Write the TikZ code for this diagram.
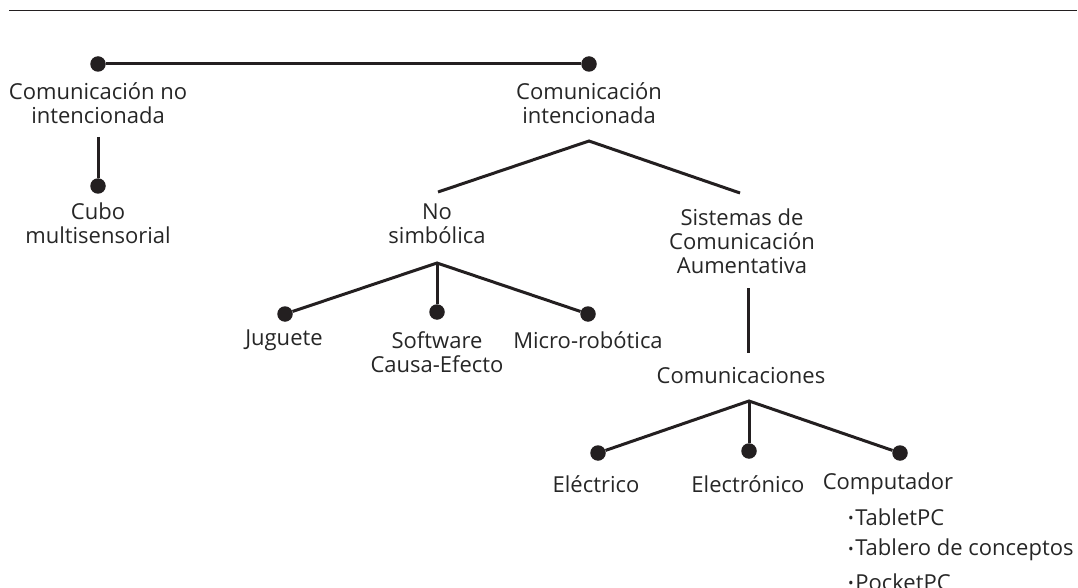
\documentclass[tikz,border=0pt]{standalone}
\usepackage{fontspec}
\setmainfont{Open Sans}
\definecolor{ink}{HTML}{231F20}
\definecolor{txt}{HTML}{262626}
\newcommand{\bul}{\raisebox{0.12ex}{\scalebox{0.68}{•}}\kern1.5pt}
\begin{document}
\begin{tikzpicture}[x=1pt,y=-1pt,
  dot/.style={circle,fill=ink,inner sep=0pt,minimum size=15.5pt},
  lbl/.style={text=txt,align=center,font=\fontsize{22}{24}\selectfont,inner sep=0pt},
  item/.style={text=txt,anchor=west,font=\fontsize{22}{24}\selectfont,inner sep=0pt},
  conn/.style={draw=ink,line width=3pt},
  rule/.style={draw=ink,line width=1.4pt}]
\useasboundingbox (0,0) rectangle (1078,588);
% top rule
\coordinate (rl) at (9,10.5);
\coordinate (rr) at (1077,10.5);
\draw[rule] (rl) -- (rr);
% level 1
\node[dot] (d1) at (98,64) {};
\node[dot] (d2) at (589,64) {};
\draw[conn] (d1) -- (d2);
\node[lbl] (l1) at (98,103.5) {Comunicación no\\intencionada};
\node[lbl] (l2) at (589,103.5) {Comunicación\\intencionada};
% left branch
\coordinate (t1) at (98,137);
\node[dot] (d3) at (98,186) {};
\draw[conn] (t1) -- (d3);
\node[lbl] (l3) at (98,223.5) {Cubo\\multisensorial};
% intencionada split
\coordinate (a1) at (589,141);
\coordinate (e1) at (438,192);
\coordinate (e2) at (740,193);
\draw[conn] (e1) -- (a1) -- (e2);
\node[lbl] (l4) at (437,223.5) {No\\simbólica};
\node[lbl] (l5) at (742,241.5) {Sistemas de\\Comunicación\\Aumentativa};
% no simbolica children
\coordinate (a2) at (437,263);
\node[dot] (d4) at (285,314) {};
\node[dot] (d5) at (437,312) {};
\node[dot] (d6) at (588,314) {};
\draw[conn] (d4) -- (a2) -- (d6);
\draw[conn] (a2) -- (d5);
\node[lbl] (j) at (284,340) {Juguete};
\node[lbl] (s) at (437,352) {Software\\Causa-Efecto};
\node[lbl] (m) at (588,340) {Micro-robótica};
% sistemas -> comunicaciones
\coordinate (v1) at (748,288);
\coordinate (v2) at (748,353);
\draw[conn] (v1) -- (v2);
\node[lbl] (c) at (741,376) {Comunicaciones};
% comunicaciones children
\coordinate (a3) at (749,401);
\node[dot] (d7) at (598,453) {};
\node[dot] (d8) at (749,451) {};
\node[dot] (d9) at (900,453) {};
\draw[conn] (d7) -- (a3) -- (d9);
\draw[conn] (a3) -- (d8);
\node[lbl] (el) at (596,484) {Eléctrico};
\node[lbl] (et) at (748,484) {Electrónico};
\node[lbl] (cp) at (888,484) {Computador};
\node[item] (b1) at (848,517) {\bul TabletPC};
\node[item] (b2) at (848,550) {\bul Tablero de conceptos};
\node[item] (b3) at (848,582) {\bul PocketPC};
\end{tikzpicture}
\end{document}
